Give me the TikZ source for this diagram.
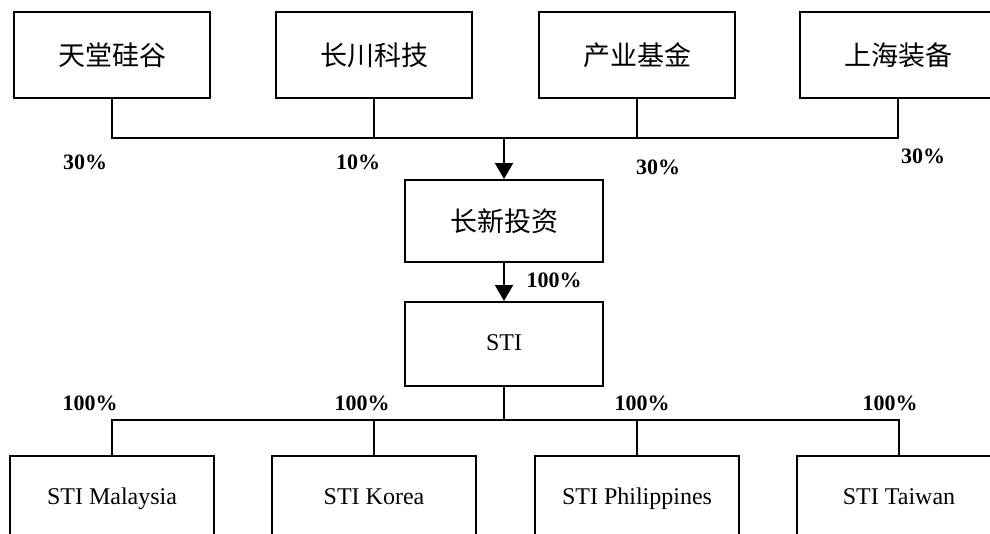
\documentclass[tikz,border=0pt]{standalone}
\usepackage{fontspec}
\setmainfont{Liberation Serif}
\newfontfamily\cjk{Noto Sans CJK SC}
\usetikzlibrary{arrows.meta, positioning}

\begin{document}
\begin{tikzpicture}[x=1pt, y=-1pt, line width=2pt,
    cnbox/.style={draw, minimum width=196pt, minimum height=86pt, font=\cjk\fontsize{27}{30}\selectfont},
    stibox/.style={draw, minimum width=204pt, minimum height=84pt, text height=17pt, text depth=5pt, font=\fontsize{24}{28}\selectfont},
    pct/.style={font=\bfseries\fontsize{22}{24}\selectfont, inner sep=0pt},
    tip/.style={-{Triangle[width=18pt, length=16pt]}}]
\useasboundingbox (0,0) rectangle (990,533);
\clip (0,0) rectangle (990,533);

\node[cnbox] (tangsh) at (112,55) {天堂硅谷};
\node[cnbox] (cchuan) at (374,55) {长川科技};
\node[cnbox] (chanye) at (637,55) {产业基金};
\node[cnbox] (shzb) at (898,55) {上海装备};

\node[cnbox, minimum width=198pt, minimum height=82pt] (cxtz) at (504,221) {长新投资};
\node[stibox, minimum width=198pt] (sti) at (504,344) {STI};

\node[stibox] (malay) at (112,498) {STI Malaysia};
\node[stibox] (korea) at (374,498) {STI Korea};
\node[stibox] (phil) at (637,498) {STI Philippines};
\node[stibox] (taiwan) at (899,498) {STI Taiwan};

\coordinate (jtop) at (504,138);
\coordinate (jbot) at (504,420);

\draw (tangsh.south) |- (shzb.south |- jtop) -- (shzb.south);
\draw (cchuan.south) -- (cchuan.south |- jtop);
\draw (chanye.south) -- (chanye.south |- jtop);
\draw[tip] (jtop) -- (cxtz.north);
\draw[tip] (cxtz.south) -- (sti.north);

\draw (sti.south) -- (jbot);
\draw (malay.north) |- (taiwan.north |- jbot) -- (taiwan.north);
\draw (korea.north) -- (korea.north |- jbot);
\draw (phil.north) -- (phil.north |- jbot);

\node[pct] (p1) at (85,162) {30\%};
\node[pct] (p2) at (358,162) {10\%};
\node[pct] (p3) at (658,167) {30\%};
\node[pct] (p4) at (923,156) {30\%};
\node[pct] (p5) at (554,280) {100\%};

\node[pct] (q1) at (90,403) {100\%};
\node[pct] (q2) at (362,403) {100\%};
\node[pct] (q3) at (642,403) {100\%};
\node[pct] (q4) at (890,403) {100\%};

\end{tikzpicture}
\end{document}
